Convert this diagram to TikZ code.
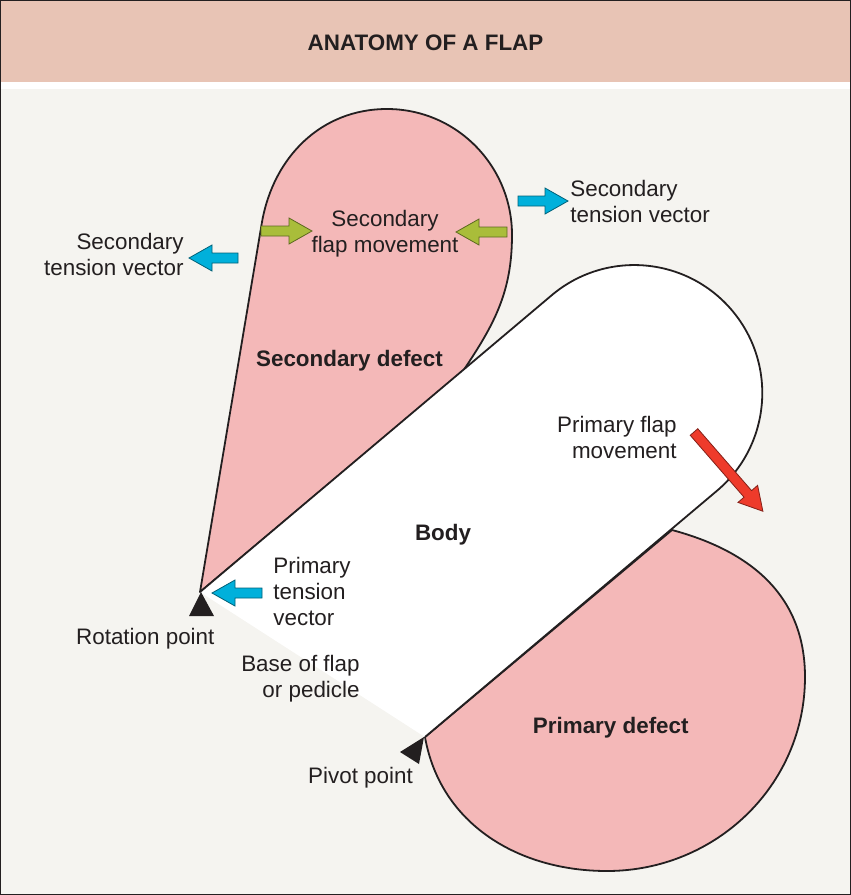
\documentclass[tikz,border=0pt]{standalone}
\usepackage{fontspec}
\setmainfont{Liberation Sans}
\definecolor{bandpink}{HTML}{E8C4B5}
\definecolor{paper}{HTML}{F5F4F0}
\definecolor{defectpink}{HTML}{F4B8B8}
\definecolor{inkdark}{HTML}{231F20}
\definecolor{tensioncyan}{HTML}{00B0DB}
\definecolor{movegreen}{HTML}{A9BD3A}
\definecolor{movered}{HTML}{EE3B2B}
\tikzset{
  lbl/.style={inner sep=0pt,text=inkdark,font=\fontsize{11.2}{13}\selectfont},
  boldlbl/.style={lbl,font=\fontsize{11.2}{13}\selectfont\bfseries},
  outline/.style={draw=inkdark,line width=0.9pt,line join=round},
  blockarr/.pic={\path[pic actions] (0,-5) -- ({#1-23},-5) -- ({#1-23},-13) -- (#1,0)
    -- ({#1-23},13) -- ({#1-23},5) -- (0,5) -- cycle;},
  cyanarrow/.style={line width=0.4pt,fill=tensioncyan,draw=tensioncyan!55!black},
  greenarrow/.style={line width=0.4pt,fill=movegreen,draw=movegreen!55!black},
  redarrow/.style={line width=0.4pt,fill=movered,draw=movered!55!black}
}
\begin{document}
\begin{tikzpicture}[x=0.5pt,y=0.5pt]
\useasboundingbox (0,0) rectangle (851,-895);
\fill [paper] (0,0) rectangle (851,-895);
\fill [bandpink] (0,0) rectangle (851,-82);
\fill [white] (0,-82) rectangle (851,-89);
\draw [inkdark,line width=0.7pt] (0.7,-0.7) rectangle (850.3,-894.3);
\node [boldlbl] (title) at (425.5,-43) {ANATOMY OF A FLAP};
\coordinate (rot) at (200,-592);
\coordinate (piv) at (425,-737);
% secondary defect
\filldraw [outline,fill=defectpink] (rot) -- (262,-222) to[out=80,in=180] (387,-109)
  to[out=0,in=90] (512,-235) to[out=-90,in=56] (463,-371) -- cycle;
% primary defect
\filldraw [outline,fill=defectpink] (672,-530) to[out=-15,in=90,looseness=1.05] (805,-677)
  to[out=-90,in=0] (607,-871) to[out=180,in=-80] (piv) -- cycle;
% body
\fill [white] (rot) -- (552,-295) arc (130:-50:128) -- (piv) -- cycle;
\draw [outline] (rot) -- (552,-295) arc (130:-50:128) -- (piv);
\fill [inkdark] (201,-592) -- (189,-616) -- (214,-616) -- cycle;
\fill [inkdark] (424,-737) -- (400,-752) -- (419,-764) -- cycle;
\pic [cyanarrow,rotate=180] (stvleft) at (238,-258) {blockarr=49};
\pic [cyanarrow] (stvright) at (518,-201) {blockarr=50};
\pic [cyanarrow,rotate=180] (ptv) at (262,-593) {blockarr=50};
\pic [greenarrow] (sfmleft) at (261,-231) {blockarr=51};
\pic [greenarrow,rotate=180] (sfmright) at (507,-232) {blockarr=51};
\pic [redarrow,rotate=-49] (pfm) at (694,-432) {blockarr=105};
\node [lbl,anchor=east,align=right] (stvlefttxt) at (184,-254) {Secondary\\tension vector};
\node [lbl,anchor=west,align=left] (stvrighttxt) at (570,-201) {Secondary\\tension vector};
\node [lbl,align=center] (sfmtxt) at (385,-234) {Secondary\\flap movement};
\node [boldlbl] (secdef) at (349.5,-361) {Secondary defect};
\node [lbl,anchor=east,align=right] (pfmtxt) at (677,-437.5) {Primary flap\\movement};
\node [boldlbl] (body) at (443,-535) {Body};
\node [lbl,anchor=west,align=left] (ptvtxt) at (273,-591.5) {Primary\\tension\\vector};
\node [lbl] (rottxt) at (145.3,-639) {Rotation point};
\node [lbl,anchor=east,align=right] (basetxt) at (360,-679) {Base of flap\\or pedicle};
\node [lbl] (pivtxt) at (360.5,-777.4) {Pivot point};
\node [boldlbl] (primdef) at (610.8,-727.4) {Primary defect};
\end{tikzpicture}
\end{document}
